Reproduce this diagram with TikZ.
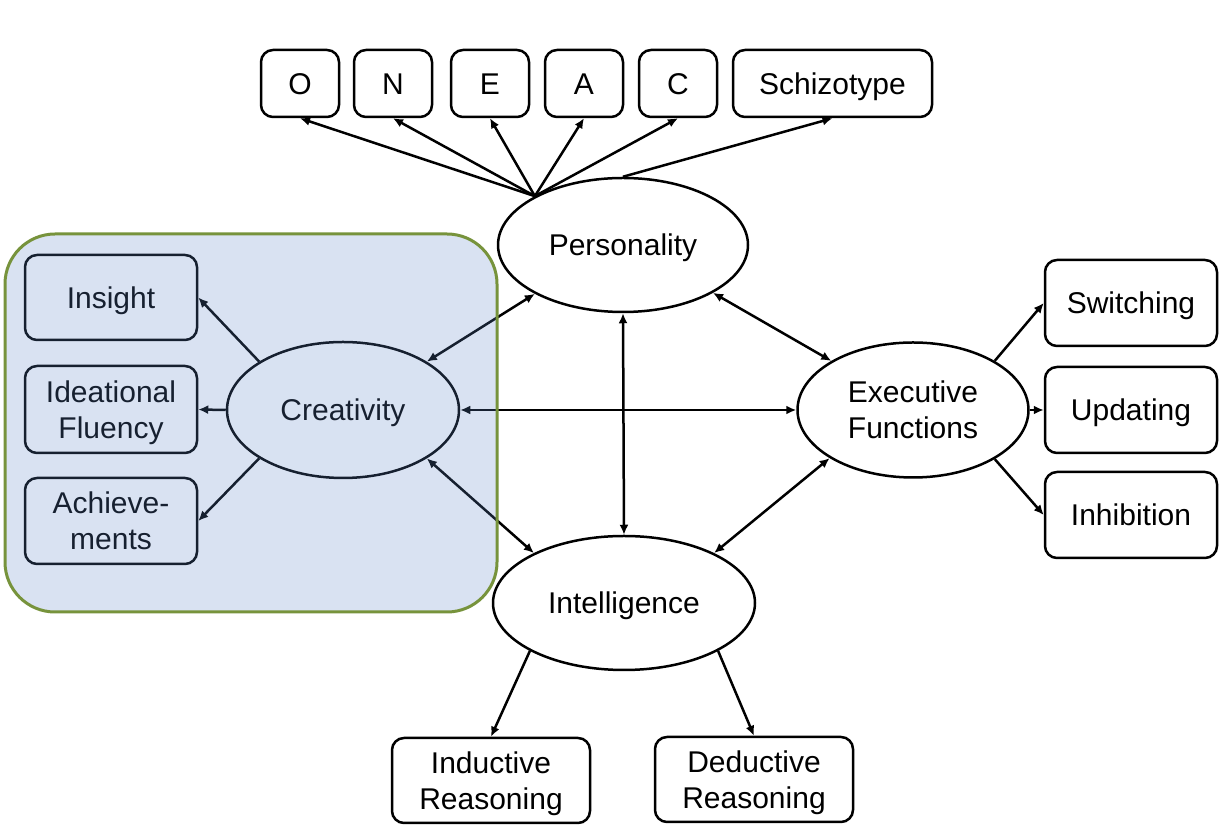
\documentclass[tikz,border=0pt]{standalone}
\usepackage{fontspec}
\setmainfont{Liberation Sans}
\usetikzlibrary{shapes.geometric,arrows.meta}
\definecolor{tint}{RGB}{96,134,201}
\definecolor{olive}{RGB}{119,147,60}
\begin{document}
\begin{tikzpicture}[x=0.5pt,y=-0.5pt, font=\fontsize{15}{18}\selectfont,
 box/.style={draw, line width=1.25pt, rounded corners=6pt, align=center, inner sep=0pt},
 latent/.style={draw, ellipse, line width=1.25pt, align=center, inner sep=0pt, fill=white},
 one/.style={text height=12pt, text depth=1.26pt},
 two/.style={text depth=0pt},
 arr/.style={line width=1.25pt, -{Latex[length=5pt,width=4.5pt]}},
 darr/.style={line width=1.25pt, {Latex[length=5pt,width=4.5pt]}-{Latex[length=5pt,width=4.5pt]}}]
\useasboundingbox (0,0) rectangle (1223,833);

% top indicators
\node[box, one, minimum width=39pt, minimum height=33.5pt] (O) at (300,83.5) {O};
\node[box, one, minimum width=39pt, minimum height=33.5pt] (N) at (393,83.5) {N};
\node[box, one, minimum width=39pt, minimum height=33.5pt] (E) at (490,83.5) {E};
\node[box, one, minimum width=39pt, minimum height=33.5pt] (A) at (584,83.5) {A};
\node[box, one, minimum width=39pt, minimum height=33.5pt] (Cc) at (678,83.5) {C};
\node[box, one, minimum width=99.5pt, minimum height=33.5pt] (S) at (832.5,83.5) {Schizotype};

% latent variables
\node[latent, one, minimum width=125pt, minimum height=67pt] (P) at (623,245) {Personality};
\node[latent, one, minimum width=116pt, minimum height=68pt] (Cr) at (343,410) {Creativity};
\node[latent, two, minimum width=115.5pt, minimum height=67.5pt] (EF) at (913,410) {Executive\\Functions};
\node[latent, one, minimum width=131pt, minimum height=67pt] (I) at (624,603) {Intelligence};

% creativity indicators
\node[box, one, minimum width=86pt, minimum height=42.5pt] (Ins) at (111,297.5) {Insight};
\node[box, two, minimum width=86pt, minimum height=43.5pt] (IF) at (111,409.5) {Ideational\\Fluency};
\node[box, two, minimum width=86pt, minimum height=43pt] (Ach) at (111,521) {Achieve-\\ments};

% executive function indicators
\node[box, one, minimum width=86pt, minimum height=43pt] (Sw) at (1131,303) {Switching};
\node[box, one, minimum width=86pt, minimum height=43pt] (Up) at (1131,410) {Updating};
\node[box, one, minimum width=86pt, minimum height=43pt] (Inh) at (1131,515) {Inhibition};

% intelligence indicators
\node[box, two, minimum width=99pt, minimum height=42.5pt] (Ind) at (491,780.5) {Inductive\\Reasoning};
\node[box, two, minimum width=99pt, minimum height=42.5pt] (Ded) at (754,779.5) {Deductive\\Reasoning};

% personality arrows
\draw[arr] (P.151) -- (O.south);
\draw[arr] (P.151) -- (N.south);
\draw[arr] (P.151) -- (E.south);
\draw[arr] (P.151) -- (A.south);
\draw[arr] (P.151) -- (Cc.south);
\draw[arr] (P.north) -- (S.south);

% creativity arrows
\draw[arr] (Cr.150) -- (Ins.east);
\draw[arr] (Cr.west) -- (IF.east);
\draw[arr] (Cr.210) -- (Ach.east);

% executive arrows
\draw[arr] (EF.31) -- (Sw.west);
\draw[arr] (EF.east) -- (Up.west);
\draw[arr] (EF.329) -- (Inh.west);

% intelligence arrows
\draw[arr] (I.207) -- (Ind.north);
\draw[arr] (I.333) -- (Ded.north);

% correlations
\draw[darr] (Cr.30) -- (P.209);
\draw[darr] (Cr.east) -- (EF.west);
\draw[darr] (Cr.330) -- (I.151);
\draw[darr] (P.south) -- (I.north);
\draw[darr] (P.332) -- (EF.149);
\draw[darr] (I.29) -- (EF.210);

% creativity group overlay
\fill[tint, fill opacity=0.24, rounded corners=25pt] (5,234) rectangle (497,612);
\draw[olive, line width=1.5pt, rounded corners=25pt] (5,234) rectangle (497,612);
\end{tikzpicture}
\end{document}
